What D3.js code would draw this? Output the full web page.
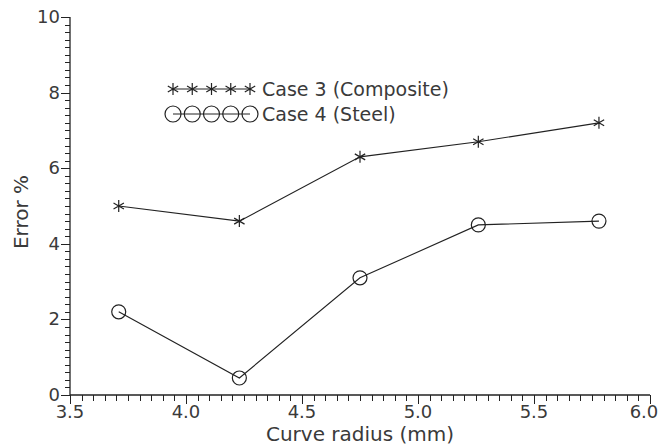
<!doctype html>
<html>
<head>
<style>
  body { margin: 0; background: #fff; }
  text { font-family: "DejaVu Sans", sans-serif; fill: #3a3a3a; }
</style>
<script src="https://d3js.org/d3.v7.min.js"></script>
</head>
<body>
<script>
// data
var radius = [3.71, 4.23, 4.75, 5.26, 5.78];
var case3 = [5.0, 4.6, 6.3, 6.7, 7.2];
var case4 = [2.2, 0.45, 3.1, 4.5, 4.6];
var xTicks = [3.5, 4.0, 4.5, 5.0, 5.5, 6.0];
var yTicks = [0, 2, 4, 6, 8, 10];
var legendNames = ["Case  3  (Composite)", "Case  4  (Steel)"];

var W = 662, H = 446;
var svg = d3.select("body").append("svg").attr("width", W).attr("height", H);

var x = d3.scaleLinear().domain([3.5, 6.0]).range([70, 650]);
var y = d3.scaleLinear().domain([0, 10]).range([395, 17]);
var ink = "#222";

// axes lines
svg.append("line").attr("x1", x(3.5)).attr("x2", x(6.0)).attr("y1", y(0)).attr("y2", y(0))
  .attr("stroke", ink).attr("stroke-width", 1.3);
svg.append("line").attr("x1", x(3.5)).attr("x2", x(3.5)).attr("y1", y(0)).attr("y2", y(10))
  .attr("stroke", ink).attr("stroke-width", 1.3);

// y ticks, minor every 0.2
var yMinor = d3.range(0, 51).map(function(i){ return i * 0.2; });
svg.selectAll("line.ym").data(yMinor).enter().append("line")
  .attr("x1", function(d, i){ return i % 10 == 0 ? x(3.5) - 9 : x(3.5) - 5; })
  .attr("x2", x(3.5))
  .attr("y1", function(d){ return Math.round(y(d)) + 0.5; })
  .attr("y2", function(d){ return Math.round(y(d)) + 0.5; })
  .attr("stroke", ink).attr("stroke-width", 1);

// x ticks, minor every 0.05
var xMinor = d3.range(0, 51).map(function(i){ return 3.5 + i * 0.05; });
svg.selectAll("line.xm").data(xMinor).enter().append("line")
  .attr("x1", function(d){ return Math.round(x(d)) + 0.5; })
  .attr("x2", function(d){ return Math.round(x(d)) + 0.5; })
  .attr("y1", y(0))
  .attr("y2", function(d, i){ return i % 10 == 0 ? y(0) + 9 : y(0) + 6; })
  .attr("stroke", ink).attr("stroke-width", 1);

svg.selectAll("text.yl").data(yTicks).enter().append("text")
  .attr("x", x(3.5) - 10).attr("y", function(d){ return y(d) + 6; })
  .attr("text-anchor", "end").attr("font-size", 18)
  .text(function(d){ return d; });

svg.selectAll("text.xl").data(xTicks).enter().append("text")
  .attr("x", function(d){ return Math.min(x(d), 644); }).attr("y", y(0) + 23)
  .attr("text-anchor", "middle").attr("font-size", 18)
  .text(function(d){ return d.toFixed(1); });

svg.append("text").attr("x", 360).attr("y", 441).attr("text-anchor", "middle")
  .attr("font-size", 20).text("Curve radius (mm)");
svg.append("text").attr("transform", "translate(28,212) rotate(-90)")
  .attr("text-anchor", "middle").attr("font-size", 20).text("Error %");

// markers
function star(g, cx, cy, r) {
  var p = d3.path();
  for (var a = 0; a < 3; a++) {
    var ang = Math.PI / 2 + a * Math.PI / 3;
    p.moveTo(cx + r * Math.cos(ang), cy + r * Math.sin(ang));
    p.lineTo(cx - r * Math.cos(ang), cy - r * Math.sin(ang));
  }
  g.append("path").attr("d", p.toString()).attr("stroke", ink).attr("stroke-width", 1.2).attr("fill", "none");
}
function ring(g, cx, cy, r) {
  g.append("circle").attr("cx", cx).attr("cy", cy).attr("r", r)
    .attr("stroke", ink).attr("stroke-width", 1.2).attr("fill", "none");
}

var line = d3.line().x(function(d){ return x(d[0]); }).y(function(d){ return y(d[1]); });
var s3 = d3.zip(radius, case3), s4 = d3.zip(radius, case4);
svg.append("path").attr("d", line(s3)).attr("fill", "none").attr("stroke", ink).attr("stroke-width", 1.1);
svg.append("path").attr("d", line(s4)).attr("fill", "none").attr("stroke", ink).attr("stroke-width", 1.1);
s3.forEach(function(d){ star(svg, x(d[0]), y(d[1]), 6); });
s4.forEach(function(d){ ring(svg, x(d[0]), y(d[1]), 7); });

// legend
var lg = svg.append("g");
var lx0 = 173, lx1 = 250;
[89, 114].forEach(function(ly, k){
  lg.append("line").attr("x1", lx0).attr("x2", lx1).attr("y1", ly).attr("y2", ly)
    .attr("stroke", ink).attr("stroke-width", 1);
  d3.range(5).forEach(function(i){
    var cx = lx0 + i * (lx1 - lx0) / 4;
    if (k == 0) star(lg, cx, ly, 6); else ring(lg, cx, ly, 8);
  });
  lg.append("text").attr("x", 262).attr("y", ly + 7).attr("font-size", 19).text(legendNames[k]);
});
</script>
</body>
</html>
